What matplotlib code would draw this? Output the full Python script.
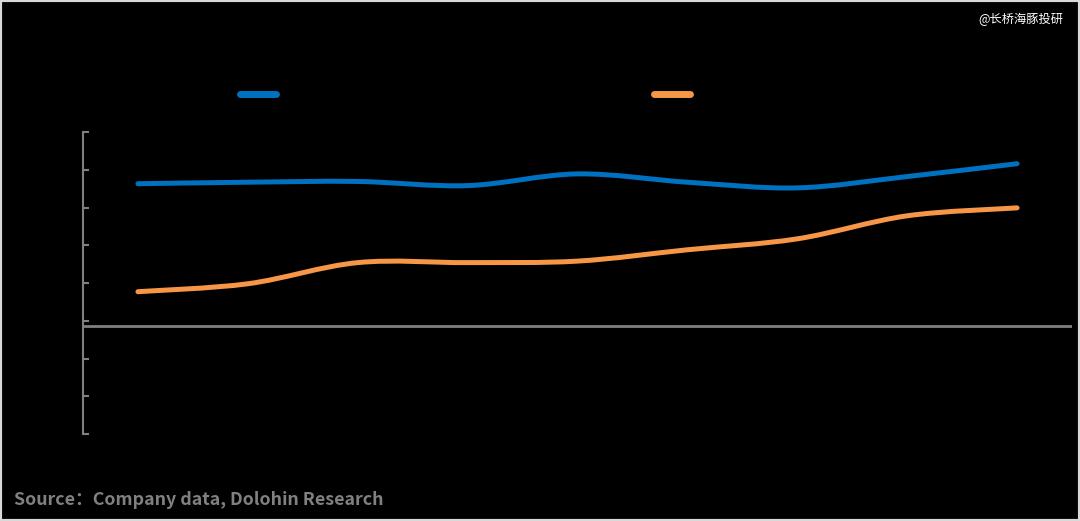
import matplotlib
matplotlib.use("Agg")
import matplotlib.pyplot as plt
from matplotlib.path import Path
from matplotlib.patches import PathPatch, Rectangle
from matplotlib.lines import Line2D
import numpy as np

plt.rcParams['font.family'] = ['Noto Sans CJK SC', 'DejaVu Sans']

# Data
categories = list(range(9))
series_blue = [0.363, 0.367, 0.369, 0.358, 0.389, 0.367, 0.352, 0.382, 0.416]
series_orange = [0.077, 0.098, 0.154, 0.154, 0.158, 0.188, 0.217, 0.278, 0.299]
y_ticks = [-0.3, -0.2, -0.1, 0.0, 0.1, 0.2, 0.3, 0.4, 0.5]
axis_cross = -0.013

BLUE = '#0070C0'
ORANGE = '#F79646'
GRAY = '#808080'

W, H = 1080, 521
fig = plt.figure(figsize=(W / 100, H / 100), dpi=100, facecolor='black')
ax = fig.add_axes([83 / W, 1 - 434 / H, 989 / W, 302 / H])
ax.set_facecolor('black')


def smooth_path(xs, ys, t=1 / 6):
    xs = np.asarray(xs, float)
    ys = np.asarray(ys, float)
    n = len(xs)
    verts = [(xs[0], ys[0])]
    codes = [Path.MOVETO]
    for i in range(n - 1):
        i0 = max(i - 1, 0)
        i3 = min(i + 2, n - 1)
        c1 = (xs[i] + (xs[i + 1] - xs[i0]) * t, ys[i] + (ys[i + 1] - ys[i0]) * t)
        c2 = (xs[i + 1] - (xs[i3] - xs[i]) * t, ys[i + 1] - (ys[i3] - ys[i]) * t)
        verts += [c1, c2, (xs[i + 1], ys[i + 1])]
        codes += [Path.CURVE4] * 3
    return Path(verts, codes)


for ys, col in [(series_blue, BLUE), (series_orange, ORANGE)]:
    patch = PathPatch(smooth_path(categories, ys), facecolor='none', edgecolor=col,
                      lw=3.6, capstyle='round', joinstyle='round', zorder=3)
    ax.add_patch(patch)

ax.set_xlim(-0.5, 8.5)
ax.set_ylim(-0.3, 0.5)
ax.set_yticks(y_ticks)
ax.set_yticklabels([f"{v:.0%}" for v in y_ticks], color='black')
ax.set_xticks([])
for s in ['top', 'right', 'bottom']:
    ax.spines[s].set_visible(False)
ax.spines['left'].set_color(GRAY)
ax.spines['left'].set_linewidth(1.5)
ax.tick_params(axis='y', direction='in', length=4, width=1.5, color=GRAY, labelcolor='black')
ax.axhline(axis_cross, color=GRAY, lw=2, zorder=2)

# legend (labels are black on black in the reference)
handles = [Line2D([], [], color=BLUE, lw=5, solid_capstyle='round'),
           Line2D([], [], color=ORANGE, lw=5, solid_capstyle='round')]
leg = fig.legend(handles, [' ', ' '], ncol=2, loc='center left',
                 bbox_to_anchor=(240 / W, 1 - 95 / H), frameon=False,
                 handlelength=2.6, handletextpad=0.5, columnspacing=26.5, fontsize=10,
                 borderaxespad=0, borderpad=0)

fig.text(1063 / W, 1 - 19 / H, '@长桥海豚投研', color='white', fontsize=8.8,
         ha='right', va='center')
fig.text(14 / W, 1 - 500 / H, 'Source：Company data, Dolohin Research', color=GRAY,
         fontsize=12.8, fontweight='bold', ha='left', va='center')

fig.add_artist(Rectangle((0, 0), 1, 1, transform=fig.transFigure, fill=False,
                         edgecolor='#d9d9d9', lw=3, zorder=10))

fig.savefig('out.png', dpi=100, facecolor='black')
